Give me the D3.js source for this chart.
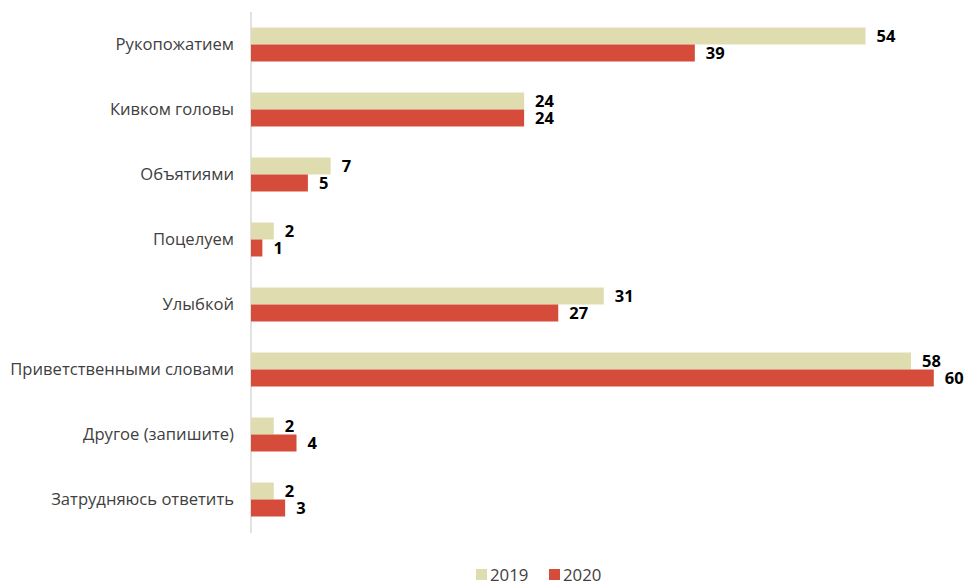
<!DOCTYPE html>
<html><head><meta charset="utf-8">
<script src="https://cdn.jsdelivr.net/npm/d3@7"></script>
<style>body{margin:0;background:#fff}svg{display:block}text{font-family:"Open Sans","Liberation Sans",sans-serif}</style>
</head><body><svg id="c" width="968" height="585"></svg>
<script>
const categories = ["Рукопожатием","Кивком головы","Объятиями","Поцелуем","Улыбкой","Приветственными словами","Другое (запишите)","Затрудняюсь ответить"];
const series = ["2019","2020"];
const values2019 = [54,24,7,2,31,58,2,2];
const values2020 = [39,24,5,1,27,60,4,3];
const colors = {"2019":"#DFDDB0","2020":"#D64C3B"};

const svg = d3.select("#c");
const x = d3.scaleLinear().domain([0,60]).range([251, 251+60*11.38]);
const y = d3.scaleBand().domain(categories).range([12,532]).padding(0);
const yi = d3.scaleBand().domain(series).range([0,y.bandwidth()]).paddingInner(0).paddingOuter(0.912);

svg.append("line").attr("x1",251).attr("x2",251).attr("y1",12).attr("y2",533).attr("stroke","#d9d9d9").attr("stroke-width",1.5);

const data = [];
categories.forEach((c,i)=>{data.push({c,s:"2019",v:values2019[i]});data.push({c,s:"2020",v:values2020[i]});});

svg.selectAll("rect.bar").data(data).enter().append("rect").attr("class","bar")
 .attr("x",x(0)).attr("y",d=>y(d.c)+yi(d.s)).attr("width",d=>x(d.v)-x(0)).attr("height",yi.bandwidth())
 .attr("fill",d=>colors[d.s]);

svg.selectAll("text.val").data(data).enter().append("text").attr("class","val")
 .attr("x",d=>x(d.v)+11).attr("y",d=>y(d.c)+yi(d.s)+yi.bandwidth()/2)
 .attr("dy","0.36em").attr("font-size",16.5).attr("font-weight","bold").attr("fill","#000").text(d=>d.v);

svg.selectAll("text.cat").data(categories).enter().append("text").attr("class","cat")
 .attr("x",234).attr("y",d=>y(d)+y.bandwidth()/2).attr("dy","0.36em").attr("text-anchor","end")
 .attr("font-size",16.6).attr("fill","#404040").text(d=>d);

const lg = svg.append("g");
const lx = [476,549];
series.forEach((s,i)=>{
 lg.append("rect").attr("x",lx[i]).attr("y",569).attr("width",11).attr("height",11).attr("fill",colors[s]);
 lg.append("text").attr("x",lx[i]+14).attr("y",575).attr("dy","0.36em").attr("font-size",16.8).attr("fill","#404040").text(s);
});
</script></body></html>
